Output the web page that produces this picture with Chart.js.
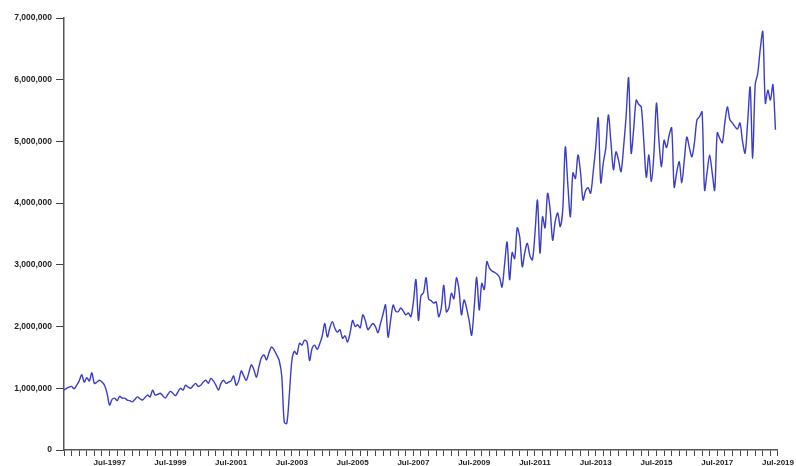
<!DOCTYPE html>
<html>
<head>
<meta charset="utf-8">
<script src="https://cdn.jsdelivr.net/npm/chart.js@4.4.0/dist/chart.umd.min.js"></script>
<style>
  body { margin: 0; background: #fff; }
  #wrap { width: 796px; height: 466px; }
</style>
</head>
<body>
<div id="wrap"><canvas id="chart_canvas" width="796" height="466"></canvas></div>
<script>
// monthly values, thousands, Jan..Dec
var y1996 = [970,1000,1020,1030,990,1050,1120,1220,1100,1170,1120,1250];
var y1997 = [1080,1100,1130,1100,1050,920,730,820,840,800,870,840];
var y1998 = [840,810,800,780,820,860,830,810,850,890,860,970];
var y1999 = [890,900,920,880,840,900,950,920,880,940,1000,970];
var y2000 = [1050,1020,1000,1040,1080,1030,1050,1100,1130,1080,1160,1120];
var y2001 = [1050,970,1080,1130,1080,1100,1120,1200,1050,1120,1280,1200];
var y2002 = [1130,1250,1380,1300,1180,1350,1500,1540,1460,1580,1670,1620];
var y2003 = [1540,1450,1200,450,430,900,1450,1600,1550,1730,1700,1780];
var y2004 = [1750,1450,1650,1700,1630,1720,1850,2050,1830,1980,2080,1970];
var y2005 = [1910,1950,1810,1850,1750,1900,2100,2000,2030,1980,2190,2100];
var y2006 = [1950,2000,2050,2000,1900,2050,2200,2350,1830,2100,2350,2250];
var y2007 = [2240,2300,2250,2190,2220,2160,2400,2760,2100,2500,2550,2790];
var y2008 = [2450,2420,2380,2400,2160,2300,2670,2240,2300,2540,2450,2790];
var y2009 = [2600,2190,2430,2300,2100,1860,2300,2800,2270,2700,2600,3050];
var y2010 = [2950,2900,2880,2850,2800,2640,3000,3370,2760,3200,3100,3600];
var y2011 = [3450,2970,3200,3350,3150,3080,3500,4050,3190,3780,3600,4160];
var y2012 = [3900,3400,3700,3840,3620,3900,4910,4300,3780,4490,4400,4780];
var y2013 = [4500,4050,4200,4250,4160,4500,4900,5380,4330,4650,4900,5430];
var y2014 = [5000,4540,4830,4700,4510,4900,5400,6030,4810,5200,5670,5600];
var y2015 = [5560,5000,4420,4780,4350,4800,5620,5000,4590,5020,4900,5100];
var y2016 = [5220,4260,4500,4670,4330,4700,5070,4900,4750,4980,5350,5400];
var y2017 = [5480,4210,4500,4780,4500,4210,5140,5050,4980,5300,5560,5350];
var y2018 = [5300,5240,5200,5300,5000,4810,5300,5880,4730,5920,6100,6500];
var y2019 = [6780,5620,5830,5670,5920,5190];

var monthNames = ['Jan','Feb','Mar','Apr','May','Jun','Jul','Aug','Sep','Oct','Nov','Dec'];
var firstYear = 1996;
var lastLabel = 'Jul-2019';
var yTicks = [0,1000000,2000000,3000000,4000000,5000000,6000000,7000000];

var years = [y1996,y1997,y1998,y1999,y2000,y2001,y2002,y2003,y2004,y2005,y2006,y2007,
             y2008,y2009,y2010,y2011,y2012,y2013,y2014,y2015,y2016,y2017,y2018,y2019];

var labels = [];
var data = [];
for (var i = 0; i < years.length; i++) {
  for (var m = 0; m < years[i].length; m++) {
    labels.push(monthNames[m] + '-' + (firstYear + i));
    data.push(years[i][m] * 1000);
  }
}
labels.push(lastLabel); // axis runs one month past the data

var ctx = document.getElementById('chart_canvas').getContext('2d');
var myChart = new Chart(ctx, {
  type: 'line',
  data: {
    labels: labels,
    datasets: [{
      data: data,
      borderColor: 'rgb(60,60,200)',
      borderWidth: 1.4,
      pointRadius: 0,
      tension: 0.3,
      fill: false
    }]
  },
  options: {
    responsive: false,
    animation: false,
    plugins: { legend: { display: false }, tooltip: { enabled: false } },
    layout: { padding: { top: 18, right: 0, left: 0, bottom: 0 } },
    scales: {
      x: {
        type: 'category',
        offset: false,
        border: { display: true, color: '#555', width: 1.5 },
        grid: {
          drawOnChartArea: false,
          drawTicks: true,
          tickLength: 6,
          tickColor: function(c) { return c.index % 3 == 0 ? '#444' : 'rgba(0,0,0,0)'; },
          tickWidth: 1
        },
        ticks: {
          autoSkip: false,
          maxRotation: 0,
          minRotation: 0,
          padding: 2,
          color: '#222',
          font: { family: 'Liberation Sans', size: 8, weight: 'bold' },
          callback: function(v, idx) {
            var l = labels[idx];
            var yr = parseInt(l.slice(4));
            return (l.slice(0, 3) == 'Jul' && yr % 2 == 1) ? l : '';
          }
        },
        afterFit: function(scale) { scale.height = 16; }
      },
      y: {
        min: 0,
        max: 7000000,
        border: { display: true, color: '#555', width: 1.5 },
        grid: { drawOnChartArea: false, drawTicks: true, tickLength: 8, tickColor: '#444' },
        afterBuildTicks: function(scale) {
          scale.ticks = yTicks.map(function(v) { return { value: v }; });
        },
        ticks: {
          padding: 4,
          color: '#222',
          font: { family: 'Liberation Sans', size: 8.5, weight: 'bold' },
          callback: function(v) { return v.toLocaleString('en-US'); }
        },
        afterFit: function(scale) { scale.width = 64; }
      }
    }
  }
});
console.log(myChart.chartArea);
</script>
</body>
</html>
